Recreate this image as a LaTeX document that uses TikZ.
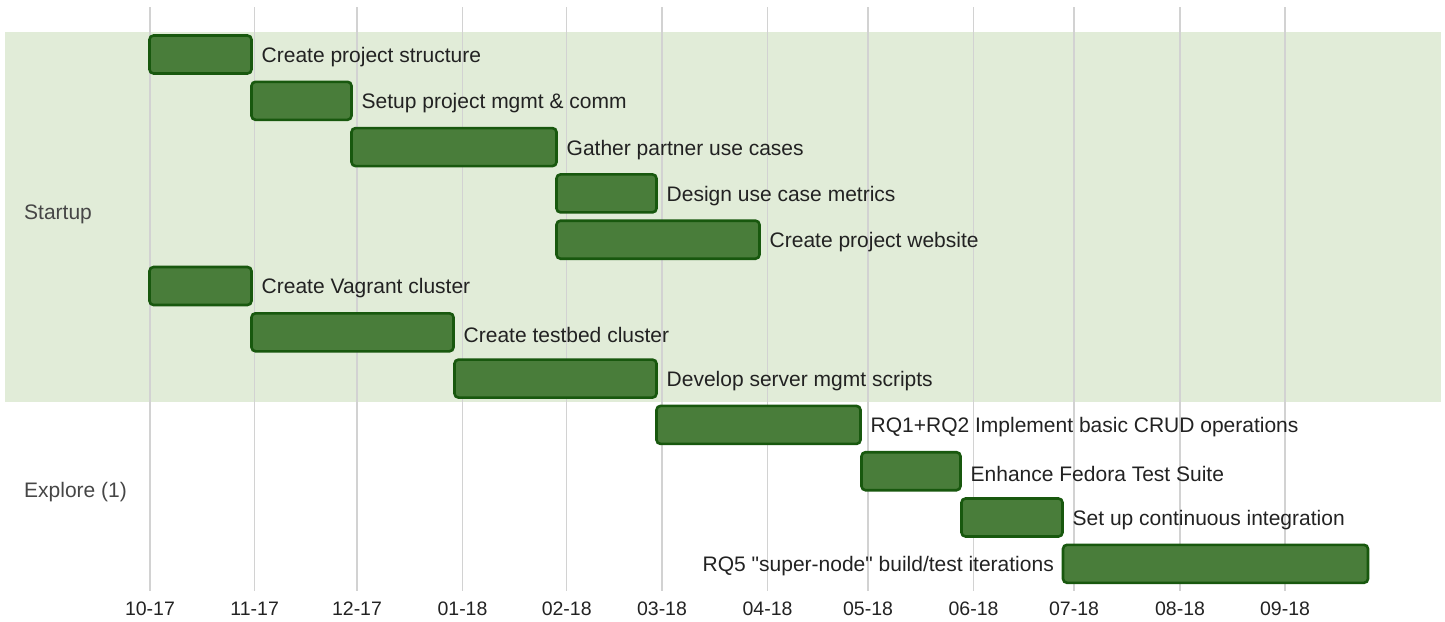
\documentclass[tikz,border=0pt]{standalone}
\usepackage{fontspec}
\setmainfont{Liberation Sans}
\definecolor{bandgreen}{RGB}{225,236,216}
\definecolor{barfill}{RGB}{73,125,58}
\definecolor{barline}{RGB}{24,88,14}
\definecolor{gridgray}{RGB}{210,210,210}
\definecolor{txt}{RGB}{34,34,34}
\definecolor{grp}{RGB}{70,70,70}
\begin{document}
\begin{tikzpicture}[x=1pt,y=-1pt,
  bar/.style={draw=barline, fill=barfill, line width=2.6pt, rounded corners=4pt, minimum height=38pt, inner sep=0pt, outer sep=0pt},
  lbl/.style={font=\fontsize{21}{25}\selectfont, text=txt, inner sep=0pt, yshift=-2.5pt},
  grplbl/.style={font=\fontsize{21}{25}\selectfont, text=grp, inner sep=0pt, anchor=west},
  tick/.style={font=\fontsize{19.5}{23}\selectfont, text=txt, inner sep=0pt},
  gridline/.style={draw=gridgray, line width=1.5pt}]
\useasboundingbox (0,0) rectangle (1445,621);
% band
\fill[bandgreen] (5,32) rectangle (1441,402);
% grid
\foreach \x/\t in {150/10-17,254.7/11-17,357/12-17,462.5/01-18,566.7/02-18,662/03-18,767.5/04-18,868/05-18,973.5/06-18,1074/07-18,1180/08-18,1285/09-18}{
  \draw[gridline] (\x,7) -- (\x,591);
  \node[tick] at (\x,609) {\t};
}
% group labels
\node[grplbl] (g1) at (24,214) {Startup};
\node[grplbl] (g2) at (24,492) {Explore (1)};
% bars
\node[bar, minimum width=102pt] (b1) at (200.5,54.5) {};
\node[bar, minimum width=100pt] (b2) at (301.5,100.8) {};
\node[bar, minimum width=205pt] (b3) at (454,147.1) {};
\node[bar, minimum width=100pt] (b4) at (606.5,193.4) {};
\node[bar, minimum width=203pt] (b5) at (658,239.7) {};
\node[bar, minimum width=102pt] (b6) at (200.5,286) {};
\node[bar, minimum width=202pt] (b7) at (352.5,332.3) {};
\node[bar, minimum width=202pt] (b8) at (555.5,378.6) {};
\node[bar, minimum width=204pt] (b9) at (758.5,424.9) {};
\node[bar, minimum width=99pt] (b10) at (911,471.2) {};
\node[bar, minimum width=101pt] (b11) at (1012,517.5) {};
\node[bar, minimum width=305pt] (b12) at (1215.5,563.8) {};
% labels
\node[lbl, anchor=west] (l1) at ([xshift=10pt]b1.east) {Create project structure};
\node[lbl, anchor=west] (l2) at ([xshift=10pt]b2.east) {Setup project mgmt \& comm};
\node[lbl, anchor=west] (l3) at ([xshift=10pt]b3.east) {Gather partner use cases};
\node[lbl, anchor=west] (l4) at ([xshift=10pt]b4.east) {Design use case metrics};
\node[lbl, anchor=west] (l5) at ([xshift=10pt]b5.east) {Create project website};
\node[lbl, anchor=west] (l6) at ([xshift=10pt]b6.east) {Create Vagrant cluster};
\node[lbl, anchor=west] (l7) at ([xshift=10pt]b7.east) {Create testbed cluster};
\node[lbl, anchor=west] (l8) at ([xshift=10pt]b8.east) {Develop server mgmt scripts};
\node[lbl, anchor=west] (l9) at ([xshift=10pt]b9.east) {RQ1+RQ2 Implement basic CRUD operations};
\node[lbl, anchor=west] (l10) at ([xshift=10pt]b10.east) {Enhance Fedora Test Suite};
\node[lbl, anchor=west] (l11) at ([xshift=10pt]b11.east) {Set up continuous integration};
\node[lbl, anchor=east] (l12) at ([xshift=-9pt]b12.west) {RQ5 \textquotedbl super-node\textquotedbl{} build/test iterations};
\end{tikzpicture}
\end{document}
